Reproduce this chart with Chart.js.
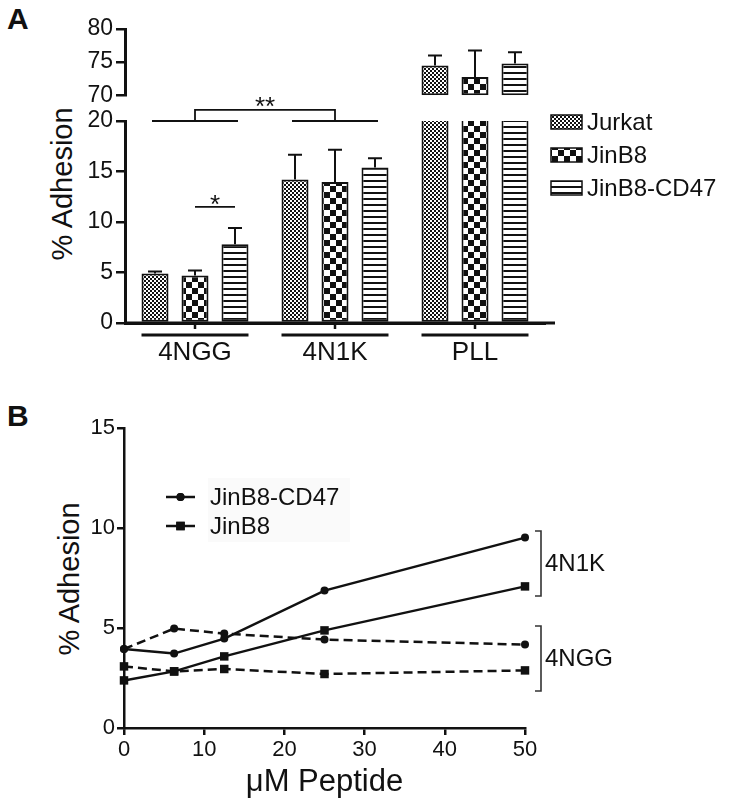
<!DOCTYPE html>
<html>
<head>
<meta charset="utf-8">
<script src="https://cdn.jsdelivr.net/npm/chart.js@4.4.1/dist/chart.umd.min.js"></script>
<style>
body{margin:0;background:#fff;width:730px;height:809px;position:relative;overflow:hidden;font-family:'Liberation Sans',Arial,sans-serif;color:#111}
canvas{position:absolute;left:0}
.panel{position:absolute;font-weight:bold;font-size:30px;line-height:30px}
.ytitle{position:absolute;width:220px;height:34px;line-height:34px;text-align:center;font-size:29px;white-space:nowrap;transform:rotate(-90deg)}
</style>
</head>
<body>
<div class="panel" style="left:7px;top:4px">A</div>
<div class="panel" style="left:7px;top:401px">B</div>
<div class="ytitle" style="left:-48px;top:167px">% Adhesion</div>
<div class="ytitle" style="left:-41px;top:562px">% Adhesion</div>
<canvas id="lowA" width="730" height="380" style="top:0"></canvas>
<canvas id="highA" width="730" height="112" style="top:0"></canvas>
<canvas id="lineB" width="730" height="429" style="top:380px"></canvas>
<script>
// panel A data
const groups = ['4NGG', '4N1K', 'PLL'];
const cellLines = ['Jurkat', 'JinB8', 'JinB8-CD47'];
const jurkat = [4.9, 14.2, 74.5];
const jinb8 = [4.7, 13.95, 72.75];
const jinb8CD47 = [7.8, 15.4, 74.8];
const jurkatErr = [0.2, 2.45, 1.5];
const jinb8Err = [0.5, 3.2, 4.0];
const jinb8CD47Err = [1.6, 0.9, 1.7];
const lowRange = [0, 20];
const highRange = [70, 80];

// panel B data
const peptide = [0, 6.25, 12.5, 25, 50];
const cd47_4N1K = [3.95, 3.72, 4.47, 6.87, 9.52];
const jinb8_4N1K = [2.38, 2.83, 3.58, 4.88, 7.08];
const cd47_4NGG = [3.95, 4.97, 4.72, 4.42, 4.17];
const jinb8_4NGG = [3.08, 2.83, 2.95, 2.7, 2.88];

const ink = '#111';
const sans = "'Liberation Sans', Arial, sans-serif";
const narrow = "'Liberation Sans Narrow', 'Arial Narrow', 'Liberation Sans', sans-serif";

function makePattern(kind){
  const c = document.createElement('canvas');
  const g = c.getContext('2d');
  if (kind === 'fine') {
    c.width = 4; c.height = 4;
    g.fillStyle = '#fff'; g.fillRect(0, 0, 4, 4);
    g.fillStyle = ink; g.fillRect(0, 0, 2, 2); g.fillRect(2, 2, 2, 2);
  } else if (kind === 'check') {
    c.width = 12; c.height = 12;
    g.fillStyle = '#fff'; g.fillRect(0, 0, 12, 12);
    g.fillStyle = ink; g.fillRect(0, 0, 6, 6); g.fillRect(6, 6, 6, 6);
  } else {
    c.width = 4; c.height = 6;
    g.fillStyle = '#fff'; g.fillRect(0, 0, 4, 6);
    g.fillStyle = ink; g.fillRect(0, 0, 4, 2);
  }
  return g.createPattern(c, 'repeat');
}
const patterns = [makePattern('fine'), makePattern('check'), makePattern('stripes')];
const values = [jurkat, jinb8, jinb8CD47];
const errs = [jurkatErr, jinb8Err, jinb8CD47Err];

function barSets(fn){
  return values.map((vals, i) => ({
    label: cellLines[i],
    data: vals.map(fn),
    errs: errs[i],
    backgroundColor: patterns[i],
    borderColor: ink,
    borderWidth: 2,
    borderSkipped: false,
    categoryPercentage: 0.857,
    barPercentage: 0.675
  }));
}

const errorBars = {
  id: 'errorBars',
  afterDatasetsDraw(chart){
    const ctx = chart.ctx, y = chart.scales.y;
    ctx.save();
    ctx.strokeStyle = ink; ctx.lineWidth = 2;
    chart.data.datasets.forEach((ds, i) => {
      chart.getDatasetMeta(i).data.forEach((bar, j) => {
        const raw = ds.data[j];
        if (raw == null) return;
        const v = Array.isArray(raw) ? raw[1] : raw;
        const top = v + ds.errs[j];
        if (top > y.max) return;
        const py = y.getPixelForValue(top);
        ctx.beginPath();
        ctx.moveTo(bar.x, bar.y); ctx.lineTo(bar.x, py);
        ctx.moveTo(bar.x - 7, py); ctx.lineTo(bar.x + 7, py);
        ctx.stroke();
      });
    });
    ctx.restore();
  }
};

// underlines, significance marks and legend of panel A
const panelAExtras = {
  id: 'panelAExtras',
  afterDraw(chart){
    const ctx = chart.ctx, a = chart.chartArea, y = chart.scales.y;
    const m = [0, 1, 2].map(i => chart.getDatasetMeta(i).data);
    ctx.save();
    ctx.strokeStyle = ink; ctx.fillStyle = ink;
    // axis extension
    ctx.lineWidth = 3;
    ctx.beginPath(); ctx.moveTo(a.left, a.bottom); ctx.lineTo(a.right + 10, a.bottom); ctx.stroke();
    groups.forEach((g, k) => {
      const l = m[0][k].x - m[0][k].width / 2, r = m[2][k].x + m[2][k].width / 2;
      ctx.lineWidth = 3;
      ctx.beginPath(); ctx.moveTo(l, a.bottom + 12); ctx.lineTo(r, a.bottom + 12); ctx.stroke();
      ctx.lineWidth = 2.5;
      ctx.beginPath(); ctx.moveTo(m[1][k].x, a.bottom); ctx.lineTo(m[1][k].x, a.bottom + 6); ctx.stroke();
    });
    // ** bracket between 4NGG and 4N1K
    ctx.lineWidth = 1.8;
    const yLow = y.getPixelForValue(20), yHigh = y.getPixelForValue(21.1);
    [0, 1].forEach(k => {
      ctx.beginPath(); ctx.moveTo(m[0][k].x - 3, yLow); ctx.lineTo(m[2][k].x + 3, yLow); ctx.stroke();
    });
    const c0 = m[1][0].x, c1 = m[1][1].x;
    ctx.beginPath(); ctx.moveTo(c0, yLow); ctx.lineTo(c0, yHigh); ctx.lineTo(c1, yHigh); ctx.lineTo(c1, yLow); ctx.stroke();
    ctx.font = '26px ' + sans; ctx.textAlign = 'center'; ctx.textBaseline = 'alphabetic';
    ctx.fillText('**', (c0 + c1) / 2, yHigh + 5);
    // * line within 4NGG
    const ys = y.getPixelForValue(11.5);
    ctx.beginPath(); ctx.moveTo(m[1][0].x, ys); ctx.lineTo(m[2][0].x, ys); ctx.stroke();
    ctx.fillText('*', (m[1][0].x + m[2][0].x) / 2, ys + 6);
    // legend
    ctx.textAlign = 'left'; ctx.textBaseline = 'middle';
    ctx.font = '24px ' + sans;
    chart.data.datasets.forEach((ds, i) => {
      const cy = a.top + 1 + i * 33;
      ctx.fillStyle = ds.backgroundColor;
      ctx.fillRect(a.right + 6, cy - 7, 31, 14);
      ctx.lineWidth = 1.5; ctx.strokeRect(a.right + 6, cy - 7, 31, 14);
      ctx.fillStyle = ink;
      ctx.fillText(ds.label, a.right + 42, cy + 1);
    });
    ctx.restore();
  }
};

const yAxisA = range => ({
  min: range[0], max: range[1],
  ticks: { stepSize: 5, color: ink, padding: 3, font: { family: sans, size: 23 } },
  grid: { drawOnChartArea: false, tickLength: 9, color: ink, lineWidth: 2.5 },
  border: { color: ink, width: 3 },
  afterFit: s => { s.width = 125; }
});

new Chart(document.getElementById('lowA'), {
  type: 'bar',
  data: { labels: groups, datasets: barSets(v => v) },
  options: {
    responsive: false, animation: false,
    layout: { padding: { top: 121, right: 185, bottom: 0, left: 0 } },
    plugins: { legend: { display: false }, tooltip: { enabled: false } },
    scales: {
      x: {
        ticks: { color: ink, padding: 14, font: { family: sans, size: 26 } },
        grid: { display: false, drawTicks: false },
        border: { color: ink, width: 3 },
        afterFit: s => { s.height = 57; }
      },
      y: yAxisA(lowRange)
    }
  },
  plugins: [errorBars, panelAExtras]
});

new Chart(document.getElementById('highA'), {
  type: 'bar',
  data: { labels: groups, datasets: barSets(v => v > highRange[0] ? [highRange[0], v] : null) },
  options: {
    responsive: false, animation: false,
    layout: { padding: { top: 29, right: 185, bottom: 14, left: 0 } },
    plugins: { legend: { display: false }, tooltip: { enabled: false } },
    scales: {
      x: { display: false },
      y: yAxisA(highRange)
    }
  },
  plugins: [errorBars]
});

// panel B
const pts = arr => peptide.map((x, i) => ({ x: x, y: arr[i] }));
const lineSet = (label, arr, style, radius, dashed, inLegend) => ({
  label: label, data: pts(arr), inLegend: inLegend,
  borderColor: ink, backgroundColor: ink, borderWidth: 2.5,
  borderDash: dashed ? [9, 5] : [],
  pointStyle: style, pointRadius: radius, pointBorderWidth: 0,
  pointBackgroundColor: ink, showLine: true, tension: 0, clip: false
});

const panelBExtras = {
  id: 'panelBExtras',
  afterDraw(chart){
    const ctx = chart.ctx, a = chart.chartArea, y = chart.scales.y;
    ctx.save();
    ctx.fillStyle = '#fafafa';
    ctx.fillRect(a.left + 84, a.top + 50, 142, 64);
    ctx.strokeStyle = ink; ctx.fillStyle = ink;
    ctx.font = '24px ' + sans; ctx.textBaseline = 'middle'; ctx.textAlign = 'left';
    chart.data.datasets.filter(d => d.inLegend).forEach((ds, i) => {
      const cy = a.top + 69 + i * 29, x0 = a.left + 42, x1 = a.left + 71;
      ctx.lineWidth = 2.5;
      ctx.beginPath(); ctx.moveTo(x0, cy); ctx.lineTo(x1, cy); ctx.stroke();
      Chart.helpers.drawPoint(ctx, { pointStyle: ds.pointStyle, radius: ds.pointRadius, borderWidth: 0 }, (x0 + x1) / 2, cy);
      ctx.fill();
      ctx.fillText(ds.label, a.left + 86, cy + 1);
    });
    // brackets
    ctx.lineWidth = 1.6; ctx.strokeStyle = '#333';
    const bx = a.right + 16;
    [['4N1K', 9.85, 6.6], ['4NGG', 5.1, 1.85]].forEach(b => {
      const t = y.getPixelForValue(b[1]), btm = y.getPixelForValue(b[2]);
      ctx.beginPath(); ctx.moveTo(bx - 6, t); ctx.lineTo(bx, t); ctx.lineTo(bx, btm); ctx.lineTo(bx - 6, btm); ctx.stroke();
      ctx.fillText(b[0], bx + 4, (t + btm) / 2 + 1);
    });
    ctx.restore();
  }
};

const axisB = (min, max, step) => ({
  type: 'linear', min: min, max: max,
  ticks: { stepSize: step, color: ink, padding: 2, font: { family: narrow, size: 22 } },
  grid: { drawOnChartArea: false, tickLength: 7, color: ink, lineWidth: 2.5 },
  border: { color: ink, width: 2.5 }
});

new Chart(document.getElementById('lineB'), {
  type: 'line',
  data: {
    datasets: [
      lineSet('JinB8-CD47', cd47_4N1K, 'circle', 4, false, true),
      lineSet('JinB8', jinb8_4N1K, 'rect', 6, false, true),
      lineSet('JinB8-CD47 4NGG', cd47_4NGG, 'circle', 4, true, false),
      lineSet('JinB8 4NGG', jinb8_4NGG, 'rect', 6, true, false)
    ]
  },
  options: {
    responsive: false, animation: false,
    layout: { padding: { top: 48, right: 205, bottom: 0, left: 0 } },
    plugins: { legend: { display: false }, tooltip: { enabled: false } },
    scales: {
      x: Object.assign(axisB(0, 50, 10), {
        title: { display: true, text: 'μM Peptide', color: ink, font: { family: sans, size: 31 }, padding: { top: 0, bottom: 8 } },
        afterFit: s => { s.height = 81; }
      }),
      y: Object.assign(axisB(0, 15, 5), { afterFit: s => { s.width = 124; } })
    }
  },
  plugins: [panelBExtras]
});
</script>
</body>
</html>
